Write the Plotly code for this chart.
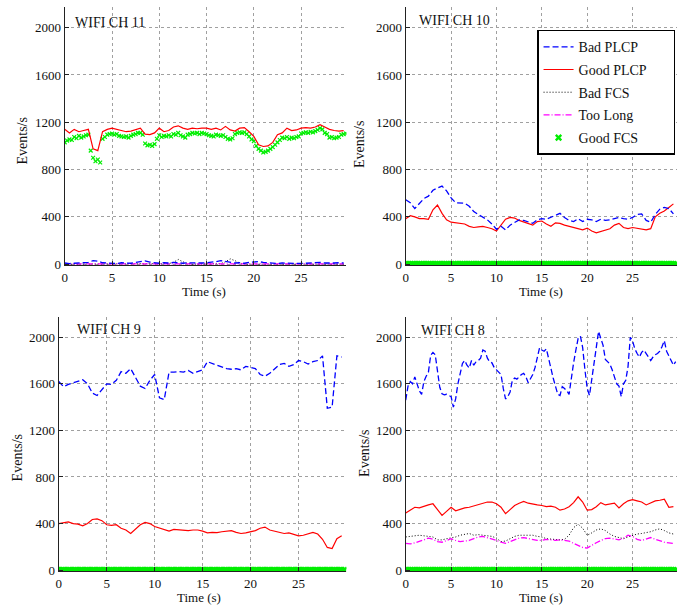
import plotly.graph_objects as go

# ---------------- data ----------------
# time grids (s)
T_HALF = [i * 0.5 for i in range(60)]      # 0 .. 29.5
T_QUART = [i * 0.25 for i in range(120)]   # 0 .. 29.75

# ---- WIFI CH 11 ----
ch11_good_plcp = [1140, 1110, 1140, 1120, 1130, 1140, 975, 960, 1120, 1140,
                  1150, 1140, 1130, 1120, 1125, 1140, 1150, 1100, 1095, 1110,
                  1150, 1120, 1130, 1160, 1170, 1150, 1140, 1150, 1145, 1150,
                  1150, 1140, 1150, 1135, 1165, 1135, 1125, 1150, 1155, 1120,
                  1080, 1010, 995, 1000, 1030, 1095, 1110, 1150, 1130, 1135,
                  1150, 1155, 1150, 1160, 1180, 1160, 1140, 1130, 1125, 1130]
ch11_good_fcs = [1030, 1045, 1055, 1050, 1075, 1065, 1085, 1070, 1080, 1090,
                 1095, 960, 900, 870, 885, 860, 1060, 1075, 1095, 1100,
                 1105, 1095, 1100, 1085, 1080, 1075, 1080, 1070, 1085, 1095,
                 1100, 1110, 1110, 1095, 1020, 1005, 1010, 1000, 1015, 1060,
                 1090, 1075, 1085, 1080, 1090, 1080, 1100, 1095, 1110, 1090,
                 1080, 1070, 1095, 1100, 1110, 1105, 1110, 1100, 1110, 1105,
                 1100, 1090, 1085, 1080, 1095, 1090, 1085, 1090, 1075, 1060,
                 1055, 1065, 1100, 1110, 1115, 1110, 1115, 1100, 1080, 1055,
                 1040, 1000, 975, 960, 945, 950, 960, 975, 990, 1010,
                 1030, 1050, 1070, 1065, 1075, 1060, 1070, 1065, 1075, 1080,
                 1105, 1110, 1115, 1110, 1120, 1115, 1125, 1135, 1150, 1140,
                 1110, 1100, 1070, 1075, 1065, 1070, 1075, 1095, 1100, 1105]
ch11_bad_plcp = [10, 5, 8, 12, 10, 15, 30, 25, 12, 8, 10, 6, 12, 10, 8, 15, 20, 28, 18, 10,
                 8, 12, 10, 15, 10, 8, 12, 10, 8, 10, 12, 15, 22, 30, 25, 15, 10, 12, 8, 15,
                 18, 22, 15, 10, 8, 6, 10, 8, 12, 10, 6, 8, 10, 12, 15, 10, 8, 10, 12, 10]
ch11_bad_fcs = [0, 0, 2, 0, 0, 3, 5, 0, 0, 0, 2, 0, 0, 0, 0, 0, 5, 3, 0, 0,
                0, 0, 5, 15, 40, 20, 5, 0, 0, 0, 0, 0, 0, 5, 20, 45, 30, 10, 0, 0,
                0, 2, 0, 0, 0, 0, 0, 0, 0, 0, 0, 0, 0, 0, 0, 0, 0, 0, 0, 0]
ch11_too_long = [2, 2, 3, 2, 2, 3, 4, 3, 2, 2, 2, 2, 3, 2, 2, 3, 3, 4, 3, 2,
                 2, 2, 3, 2, 2, 2, 3, 2, 2, 2, 2, 3, 3, 4, 3, 2, 2, 2, 2, 3,
                 3, 3, 2, 2, 2, 2, 2, 2, 3, 2, 2, 2, 2, 3, 3, 2, 2, 2, 2, 2]

# ---- WIFI CH 10 ----
ch10_bad_plcp = [545, 520, 470, 510, 555, 575, 625, 645, 660, 620,
                 560, 520, 520, 515, 490, 445, 420, 400, 375, 340,
                 295, 320, 290, 330, 355, 375, 370, 355, 345, 375,
                 385, 380, 395, 410, 430, 395, 370, 360, 385, 360,
                 380, 375, 360, 380, 370, 375, 385, 395, 385, 380,
                 395, 420, 425, 370, 355, 420, 465, 480, 470, 425]
ch10_good_plcp = [385, 410, 400, 385, 385, 380, 460, 500, 430, 375,
                  355, 350, 340, 340, 320, 310, 315, 320, 310, 300,
                  280, 330, 380, 395, 390, 370, 355, 340, 330, 360,
                  365, 340, 320, 350, 345, 330, 320, 305, 300, 290,
                  305, 280, 265, 275, 290, 300, 330, 345, 310, 300,
                  310, 305, 300, 290, 300, 400, 430, 450, 480, 510]
# series that stay at zero (CH10, CH9: Bad FCS / Too Long / Good FCS; CH8 Good FCS)
zero_series = [0, 0, 0, 0, 0, 0, 0, 0, 0, 0, 0, 0, 0, 0, 0, 0, 0, 0, 0, 0,
               0, 0, 0, 0, 0, 0, 0, 0, 0, 0, 0, 0, 0, 0, 0, 0, 0, 0, 0, 0,
               0, 0, 0, 0, 0, 0, 0, 0, 0, 0, 0, 0, 0, 0, 0, 0, 0, 0, 0, 0]
zero_series_fine = [0, 0, 0, 0, 0, 0, 0, 0, 0, 0, 0, 0, 0, 0, 0, 0, 0, 0, 0, 0,
                    0, 0, 0, 0, 0, 0, 0, 0, 0, 0, 0, 0, 0, 0, 0, 0, 0, 0, 0, 0,
                    0, 0, 0, 0, 0, 0, 0, 0, 0, 0, 0, 0, 0, 0, 0, 0, 0, 0, 0, 0,
                    0, 0, 0, 0, 0, 0, 0, 0, 0, 0, 0, 0, 0, 0, 0, 0, 0, 0, 0, 0,
                    0, 0, 0, 0, 0, 0, 0, 0, 0, 0, 0, 0, 0, 0, 0, 0, 0, 0, 0, 0,
                    0, 0, 0, 0, 0, 0, 0, 0, 0, 0, 0, 0, 0, 0, 0, 0, 0, 0, 0, 0]

# ---- WIFI CH 9 ----
ch9_bad_plcp = [1620, 1575, 1595, 1610, 1620, 1635, 1600, 1520, 1500, 1555,
                1600, 1595, 1630, 1705, 1690, 1730, 1650, 1580, 1560, 1630,
                1680, 1480, 1465, 1700, 1700, 1705, 1700, 1715, 1690, 1705,
                1720, 1790, 1775, 1760, 1740, 1730, 1725, 1730, 1720, 1750,
                1740, 1730, 1680, 1665, 1690, 1725, 1765, 1775, 1750, 1765,
                1800, 1790, 1770, 1790, 1800, 1840, 1390, 1400, 1840, 1830]
ch9_good_plcp = [400, 410, 415, 400, 395, 380, 400, 435, 440, 425,
                 390, 385, 390, 360, 345, 315, 355, 390, 410, 400,
                 375, 360, 345, 335, 350, 345, 345, 340, 345, 345,
                 335, 320, 325, 322, 330, 335, 340, 325, 315, 320,
                 330, 340, 360, 370, 345, 335, 325, 315, 320, 305,
                 295, 300, 310, 325, 310, 265, 195, 185, 270, 295]

# ---- WIFI CH 8 ----
ch8_bad_plcp = [1460, 1580, 1620, 1600, 1660, 1590, 1540, 1510, 1620, 1665,
                1700, 1845, 1870, 1850, 1720, 1570, 1515, 1505, 1510, 1500,
                1490, 1400, 1470, 1600, 1680, 1775, 1800, 1760, 1735, 1800,
                1760, 1790, 1800, 1820, 1890, 1880, 1820, 1790, 1780, 1740,
                1720, 1700, 1680, 1560, 1470, 1490, 1530, 1630, 1650, 1640,
                1660, 1680, 1690, 1660, 1610, 1640, 1680, 1740, 1830, 1910,
                1890, 1880, 1900, 1810, 1730, 1650, 1580, 1510, 1500, 1575,
                1560, 1540, 1510, 1660, 1780, 1890, 1990, 2010, 1910, 1720,
                1560, 1500, 1640, 1780, 1900, 2050, 1990, 1930, 1810, 1790,
                1770, 1720, 1660, 1600, 1580, 1490, 1600, 1630, 1750, 2000,
                1970, 1900, 1860, 1830, 1870, 1890, 1860, 1830, 1800, 1830,
                1850, 1860, 1880, 1920, 1970, 1880, 1840, 1800, 1760, 1790]
ch8_good_plcp = [490, 515, 540, 535, 550, 560, 570, 515, 470, 505,
                 540, 510, 525, 535, 540, 550, 560, 575, 585, 585,
                 570, 540, 485, 520, 555, 575, 590, 575, 565, 560,
                 555, 545, 550, 540, 515, 525, 545, 580, 630, 585,
                 515, 520, 545, 580, 560, 570, 575, 535, 570, 595,
                 605, 595, 585, 560, 575, 595, 600, 610, 540, 545]
ch8_bad_fcs = [285, 290, 290, 300, 295, 290, 285, 260, 260, 270,
               275, 285, 300, 310, 315, 300, 305, 300, 295, 290,
               275, 245, 250, 270, 290, 300, 300, 295, 300, 290,
               285, 270, 265, 260, 260, 265, 300, 365, 395, 360,
               300, 320, 345, 355, 340, 310, 290, 280, 270, 285,
               300, 310, 315, 320, 330, 345, 355, 340, 320, 310]
ch8_too_long = [230, 225, 235, 245, 260, 275, 265, 245, 240, 255,
                270, 255, 245, 250, 255, 270, 285, 290, 280, 265,
                255, 240, 230, 245, 260, 275, 280, 270, 260, 255,
                255, 265, 260, 255, 260, 255, 250, 230, 210, 195,
                190, 215, 235, 255, 270, 275, 265, 260, 275, 300,
                290, 265, 255, 265, 280, 265, 250, 240, 235, 230]

PANEL_TITLES = ["WIFI CH 11", "WIFI CH 10", "WIFI CH 9", "WIFI CH 8"]
SERIES_NAMES = ["Bad PLCP", "Good PLCP", "Bad FCS", "Too Long", "Good FCS"]
X_TICKS = [0, 5, 10, 15, 20, 25]
Y_TICKS = [0, 400, 800, 1200, 1600, 2000]

# ---------------- layout geometry (pixels) ----------------
W, H = 686, 610
FONT = "Liberation Serif, Tinos, Times New Roman, Times, DejaVu Serif, serif"

# left, right, top, bottom in px ; x range max
panels = [
    dict(box=(62, 345, 7, 268), xmax=29.8),
    dict(box=(404.5, 677, 7, 268), xmax=29.9),
    dict(box=(56, 345, 320, 577), xmax=30.0),
    dict(box=(404.5, 677, 320, 577), xmax=29.9),
]
YRANGE = [-10, 2175]

panel_data = [
    dict(bad_plcp=(T_HALF, ch11_bad_plcp), good_plcp=(T_HALF, ch11_good_plcp),
         bad_fcs=(T_HALF, ch11_bad_fcs), too_long=(T_HALF, ch11_too_long),
         good_fcs=(T_QUART, ch11_good_fcs)),
    dict(bad_plcp=(T_HALF, ch10_bad_plcp), good_plcp=(T_HALF, ch10_good_plcp),
         bad_fcs=(T_HALF, zero_series), too_long=(T_HALF, zero_series),
         good_fcs=(T_QUART, zero_series_fine)),
    dict(bad_plcp=(T_HALF, ch9_bad_plcp), good_plcp=(T_HALF, ch9_good_plcp),
         bad_fcs=(T_HALF, zero_series), too_long=(T_HALF, zero_series),
         good_fcs=(T_QUART, zero_series_fine)),
    dict(bad_plcp=(T_QUART, ch8_bad_plcp), good_plcp=(T_HALF, ch8_good_plcp),
         bad_fcs=(T_HALF, ch8_bad_fcs), too_long=(T_HALF, ch8_too_long),
         good_fcs=(T_QUART, zero_series_fine)),
]

fig = go.Figure()

GREEN = "#00ee00"
styles = {
    "bad_plcp": dict(mode="lines", line=dict(color="#0000ff", width=1.3, dash="6px,3px")),
    "good_plcp": dict(mode="lines", line=dict(color="#ff0000", width=1.2)),
    "bad_fcs": dict(mode="lines", line=dict(color="#000000", width=1.0, dash="1px,2px")),
    "too_long": dict(mode="lines", line=dict(color="#ff00ff", width=1.3, dash="6px,2px,1px,2px")),
    "good_fcs": dict(mode="markers", marker=dict(symbol="x-thin", size=3.8, color=GREEN,
                                                 line=dict(color=GREEN, width=1.2))),
}
order = ["bad_fcs", "too_long", "good_fcs", "good_plcp", "bad_plcp"]
legend_order = ["bad_plcp", "good_plcp", "bad_fcs", "too_long", "good_fcs"]
PAD = "\u00a0" * 6
names = {k: n + PAD for k, n in zip(legend_order, SERIES_NAMES)}

for i, (p, d) in enumerate(zip(panels, panel_data)):
    xa = "x" if i == 0 else f"x{i+1}"
    ya = "y" if i == 0 else f"y{i+1}"
    for key in order:
        tx, vy = d[key]
        st = styles[key]
        kw = dict(x=tx, y=vy, xaxis=xa, yaxis=ya, name=names[key],
                  showlegend=(i == 1), legendgroup=key,
                  legendrank=legend_order.index(key) + 1, mode=st["mode"])
        if "line" in st:
            kw["line"] = st["line"]
        if "marker" in st:
            mk = dict(st["marker"])
            if i != 0:
                mk = dict(symbol="x-thin", size=5.5, color=GREEN,
                          line=dict(color=GREEN, width=2.4))
            kw["marker"] = mk
        fig.add_trace(go.Scatter(**kw))

layout = dict(
    width=W, height=H, margin=dict(l=0, r=0, t=0, b=0),
    paper_bgcolor="white", plot_bgcolor="white",
    font=dict(family=FONT, size=13, color="#111"),
    legend=dict(x=675 / W, y=1 - 30 / H, xanchor="right", yanchor="top",
                bgcolor="white", bordercolor="black", borderwidth=1.5,
                font=dict(family=FONT, size=14, color="#111"),
                traceorder="grouped", tracegroupgap=1.5, itemwidth=30),
    annotations=[],
)

axis_common = dict(showgrid=True, gridcolor="#a0a0a0", griddash="dot", gridwidth=1,
                   zeroline=False, showline=True, linecolor="#222", linewidth=1.3,
                   ticks="inside", ticklen=4, tickcolor="#222", mirror=False,
                   tickfont=dict(family=FONT, size=13, color="#111"))

for i, p in enumerate(panels):
    l, r, t, b = p["box"]
    xk = "xaxis" if i == 0 else f"xaxis{i+1}"
    yk = "yaxis" if i == 0 else f"yaxis{i+1}"
    xa = "x" if i == 0 else f"x{i+1}"
    ya = "y" if i == 0 else f"y{i+1}"
    layout[xk] = dict(axis_common, domain=[l / W, r / W], range=[0, p["xmax"]],
                      tickvals=X_TICKS, anchor=ya)
    layout[yk] = dict(axis_common, domain=[1 - b / H, 1 - t / H], range=YRANGE,
                      tickvals=Y_TICKS, anchor=xa)

# panel titles and axis labels (pixel positions)
title_pos = [(70, 22.5), (416, 20.5), (72, 333), (418, 334)]
ylab_pos = [(20, 142), (358, 146), (15, 462), (363, 458)]
xlab_pos = [(202, 294), (540, 294), (197, 603.5), (540, 603.5)]
for i in range(4):
    tx, ty = title_pos[i]
    layout["annotations"].append(dict(text=PANEL_TITLES[i], x=tx / W, y=1 - ty / H,
                                      xref="paper", yref="paper", xanchor="left",
                                      yanchor="middle", showarrow=False,
                                      font=dict(family=FONT, size=14, color="#111")))
    lx, ly = ylab_pos[i]
    layout["annotations"].append(dict(text="Events/s", x=lx / W, y=1 - ly / H,
                                      xref="paper", yref="paper", xanchor="center",
                                      yanchor="middle", showarrow=False, textangle=-90,
                                      font=dict(family=FONT, size=14, color="#111")))
    bx, by = xlab_pos[i]
    layout["annotations"].append(dict(text="Time (s)", x=bx / W, y=1 - by / H,
                                      xref="paper", yref="paper", xanchor="center",
                                      yanchor="middle", showarrow=False,
                                      font=dict(family=FONT, size=13, color="#111")))

fig.update_layout(**layout)
fig.write_html("out.html")
